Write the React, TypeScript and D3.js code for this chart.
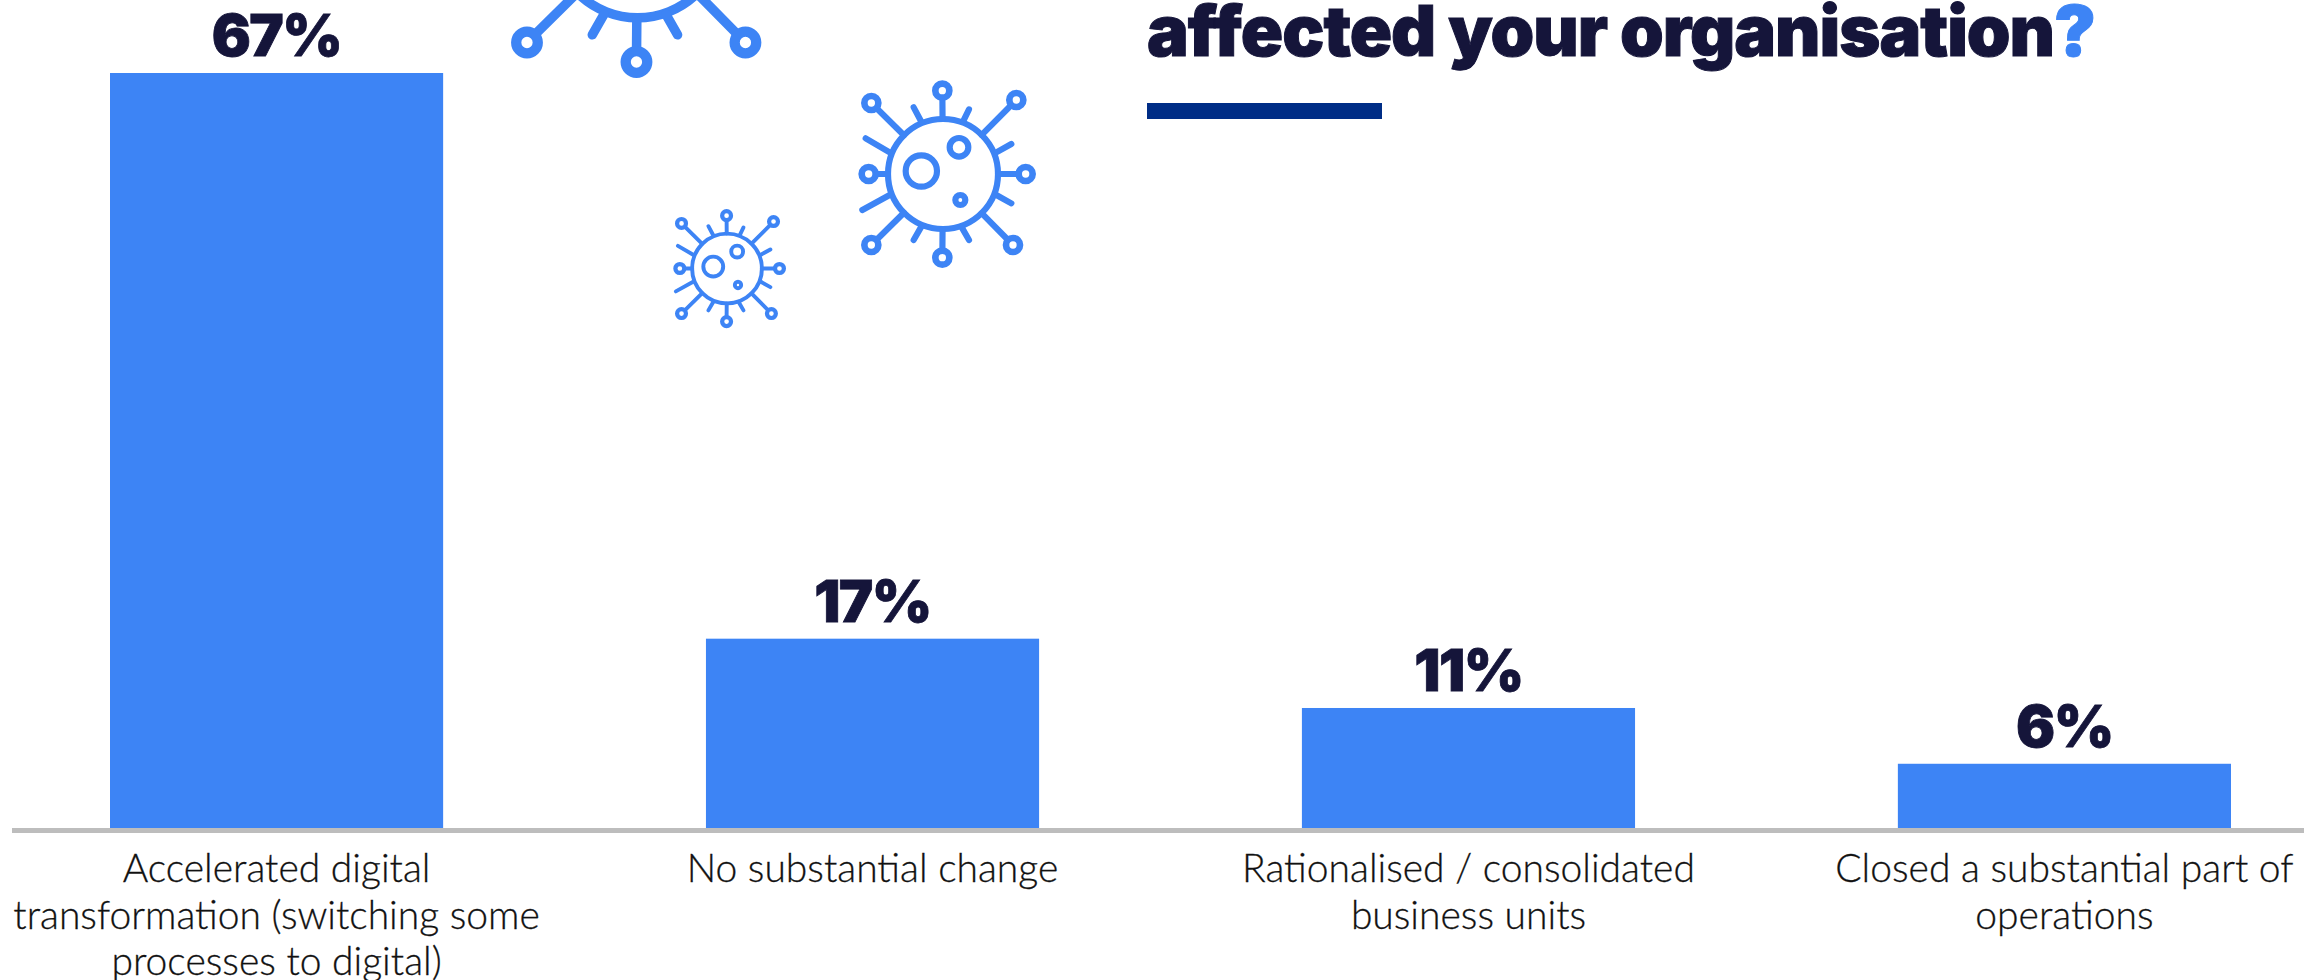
import { useRef, useEffect } from 'react';
import * as d3 from 'd3';

const categories = [
    ['Accelerated digital', 'transformation (switching some', 'processes to digital)'],
    ['No substantial change'],
    ['Rationalised / consolidated', 'business units'],
    ['Closed a substantial part of', 'operations'],
];
const values = [67, 16.8, 10.65, 5.7];
const valueLabels = ['67%', '17%', '11%', '6%'];
const titleText = 'affected your organisation';

// virus icon, measured off the medium one (origin = centre of the body)
const ballSpikes = [[-2, -250], [248, 0], [-2, 251], [-223, 0], [-215, -213], [220, -222], [210, 213], [-215, 213]];
const plainSpikes = [
    [-88, -200, -65, -157], [78, -194, 60, -157], [-232, -107, -160, -65], [205, -90, 160, -65],
    [-242, 108, -160, 63], [205, 88, 160, 63], [-88, 198, -65, 158], [78, 198, 55, 158],
];
const spots = [[-65, -9, 47], [48, -80, 28], [52, 78, 15]];
const viruses = [
    { cx: 637.5, cy: -67, k: 0.514 },
    { cx: 943, cy: 174, k: 0.3333 },
    { cx: 727, cy: 268.5, k: 0.2115 },
];

const BLUE = '#3d84f5';
const DARK = '#15153a';

const App = () => {
    const svgRef = useRef<SVGSVGElement | null>(null);

    useEffect(() => {
        const svg = d3.select(svgRef.current);
        svg.selectAll('*').remove();

        const x = d3.scaleBand<number>()
            .domain(d3.range(values.length))
            .range([110, 2231])
            .paddingInner(0.441)
            .paddingOuter(0);

        const y = d3.scaleLinear()
            .domain([0, 67])
            .range([828, 73]);

        svg.selectAll('rect.bar')
            .data(values)
            .join('rect')
            .attr('class', 'bar')
            .attr('x', (_, i) => x(i)!)
            .attr('width', x.bandwidth())
            .attr('y', d => y(d))
            .attr('height', d => y(0) - y(d))
            .attr('fill', BLUE);

        // axis line
        svg.append('rect')
            .attr('x', 12)
            .attr('y', 828)
            .attr('width', 2292)
            .attr('height', 5)
            .attr('fill', '#bdbdbd');

        svg.selectAll('text.value')
            .data(values)
            .join('text')
            .attr('class', 'value')
            .attr('x', (_, i) => x(i)! + x.bandwidth() / 2)
            .attr('y', d => y(d) - 17)
            .attr('text-anchor', 'middle')
            .style('font-family', 'Inter')
            .style('font-weight', 900)
            .style('font-size', '58px')
            .style('letter-spacing', '-1.5px')
            .style('fill', DARK)
            .style('stroke', DARK)
            .style('stroke-width', 0.8)
            .text((_, i) => valueLabels[i]);

        categories.forEach((lines, i) => {
            svg.selectAll(`text.cat${i}`)
                .data(lines)
                .join('text')
                .attr('class', `cat${i}`)
                .attr('x', x(i)! + x.bandwidth() / 2)
                .attr('y', (_, j) => 882 + j * 46.5)
                .attr('text-anchor', 'middle')
                .style('font-family', 'Lato')
                .style('font-weight', 300)
                .style('font-size', '39px')
                .style('fill', '#111')
                .style('stroke', '#111')
                .style('stroke-width', 0.3)
                .text(d => d);
        });

        // title, the first line is cut off by the frame in the reference
        const title = svg.append('text')
            .attr('x', 1147)
            .attr('y', 56)
            .style('font-family', 'Inter')
            .style('font-weight', 900)
            .style('font-size', '70px')
            .style('letter-spacing', '-1px')
            .style('fill', DARK)
            .style('stroke', DARK)
            .style('stroke-width', 1);
        title.append('tspan').text(titleText);
        title.append('tspan').style('fill', BLUE).style('stroke', BLUE).text('?');

        svg.append('rect')
            .attr('x', 1147)
            .attr('y', 103)
            .attr('width', 235)
            .attr('height', 16)
            .attr('fill', '#002d86');

        viruses.forEach(v => {
            const g = svg.append('g')
                .attr('transform', `translate(${v.cx},${v.cy}) scale(${v.k})`)
                .attr('fill', 'none')
                .attr('stroke', BLUE)
                .attr('stroke-width', 18.5)
                .attr('stroke-linecap', 'round');

            g.append('circle').attr('r', 165);

            g.selectAll('circle.spot')
                .data(spots)
                .join('circle')
                .attr('class', 'spot')
                .attr('cx', d => d[0])
                .attr('cy', d => d[1])
                .attr('r', d => d[2]);

            g.selectAll('line.plain')
                .data(plainSpikes)
                .join('line')
                .attr('class', 'plain')
                .attr('x1', d => d[0])
                .attr('y1', d => d[1])
                .attr('x2', d => d[2])
                .attr('y2', d => d[3]);

            g.selectAll('line.ball')
                .data(ballSpikes)
                .join('line')
                .attr('class', 'ball')
                .attr('x1', d => d[0] * 165 / Math.hypot(d[0], d[1]))
                .attr('y1', d => d[1] * 165 / Math.hypot(d[0], d[1]))
                .attr('x2', d => d[0])
                .attr('y2', d => d[1]);

            g.selectAll('circle.ball')
                .data(ballSpikes)
                .join('circle')
                .attr('class', 'ball')
                .attr('cx', d => d[0])
                .attr('cy', d => d[1])
                .attr('r', 21)
                .attr('stroke-width', 20)
                .attr('fill', '#fff');
        });
    }, []);

    return (
        <svg
            ref={svgRef}
            width={2304}
            height={980}
            style={{ position: 'absolute', left: 0, top: 0, background: '#fff' }}
        ></svg>
    );
};

export default App;
